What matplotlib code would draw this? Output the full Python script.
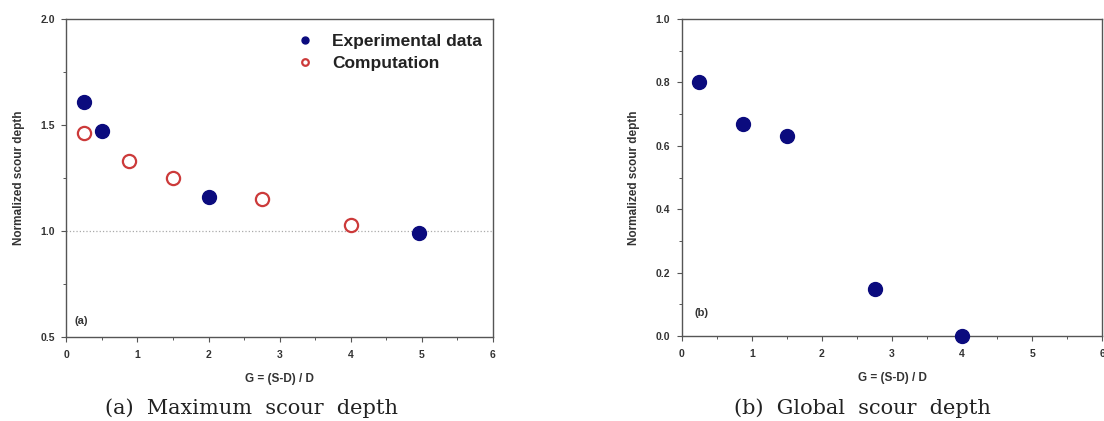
import numpy as np
import matplotlib
matplotlib.use("Agg")
import matplotlib.pyplot as plt
from matplotlib.ticker import MultipleLocator

# (a) maximum scour depth
exp_x_a = [0.25, 0.5, 2.0, 4.97]
exp_y_a = [1.61, 1.47, 1.16, 0.99]
comp_x_a = [0.25, 0.875, 1.5, 2.75, 4.0]
comp_y_a = [1.46, 1.33, 1.25, 1.15, 1.03]

# (b) global scour depth
exp_x_b = [0.25, 0.875, 1.5, 2.75, 4.0]
exp_y_b = [0.80, 0.67, 0.63, 0.15, 0.0]

navy = "#0b0b7e"
red = "#cc3a3a"
spine = "#555555"

plt.rcParams['font.family'] = ['Liberation Sans', 'DejaVu Sans']

fig = plt.figure(figsize=(11.04, 4.21), dpi=100)
ax1 = fig.add_axes([0.0602, 0.1995, 0.386, 0.7555])
ax2 = fig.add_axes([0.6175, 0.2015, 0.381, 0.7535])

def style(ax, ymaj, ymin):
    ax.set_xlim(0, 6)
    ax.xaxis.set_major_locator(MultipleLocator(1))
    ax.xaxis.set_minor_locator(MultipleLocator(0.5))
    ax.yaxis.set_major_locator(MultipleLocator(ymaj))
    ax.yaxis.set_minor_locator(MultipleLocator(ymin))
    for s in ax.spines.values():
        s.set_color(spine)
        s.set_linewidth(1.0)
    ax.tick_params(which='major', length=3.5, width=0.8, color=spine,
                   labelsize=7.5)
    ax.tick_params(axis='x', which='major', pad=6)
    ax.tick_params(axis='y', which='major', pad=5)
    ax.tick_params(which='minor', length=2, width=0.7, color=spine)
    for lab in ax.get_xticklabels() + ax.get_yticklabels():
        lab.set_fontweight('bold')
        lab.set_color('#333333')
    ax.set_xlabel("G = (S-D) / D", fontsize=8.5, fontweight='bold', color='#333333', labelpad=9)
    ax.set_ylabel("Normalized scour depth", fontsize=8.5, fontweight='bold', color='#333333', labelpad=11)

# panel a
ax1.set_ylim(0.5, 2.0)
ax1.axhline(1.0, color='#aaaaaa', linestyle=':', linewidth=0.9, zorder=1)
ax1.plot(exp_x_a, exp_y_a, 'o', color=navy, markersize=10, label="Experimental data", zorder=3)
ax1.plot(comp_x_a, comp_y_a, 'o', markerfacecolor='white', markeredgecolor=red,
         markeredgewidth=1.6, markersize=9.5, label="Computation", zorder=3)
style(ax1, 0.5, 0.25)
ax1.set_yticks([0.5, 1.0, 1.5, 2.0])
ax1.set_yticklabels(["0.5", "1.0", "1.5", "2.0"], fontweight='bold', color='#333333')
leg = ax1.legend(loc='upper left', bbox_to_anchor=(0.522, 0.975), frameon=False,
                 markerscale=0.5, handlelength=1.0, handletextpad=1.07,
                 borderaxespad=0, labelspacing=0.42,
                 prop={'weight': 'bold', 'size': 12.5})
for t in leg.get_texts():
    t.set_color('#222222')
ax1.text(0.02, 0.04, "(a)", transform=ax1.transAxes, fontsize=8, fontweight='bold', color='#333333')

# panel b
ax2.set_ylim(0.0, 1.0)
ax2.plot(exp_x_b, exp_y_b, 'o', color=navy, markersize=10, zorder=3, clip_on=False)
style(ax2, 0.2, 0.1)
ax2.set_yticks([0.0, 0.2, 0.4, 0.6, 0.8, 1.0])
ax2.set_yticklabels(["0.0", "0.2", "0.4", "0.6", "0.8", "1.0"], fontweight='bold', color='#333333')
ax2.text(0.03, 0.065, "(b)", transform=ax2.transAxes, fontsize=8, fontweight='bold', color='#333333')

# captions
fig.text(0.2275, 0.031, "(a)  Maximum  scour  depth", ha='center', va='center',
         fontsize=15, family='DejaVu Serif', color='#222222')
fig.text(0.781, 0.031, "(b)  Global  scour  depth", ha='center', va='center',
         fontsize=15, family='DejaVu Serif', color='#222222')

fig.savefig("out.png", dpi=100)
